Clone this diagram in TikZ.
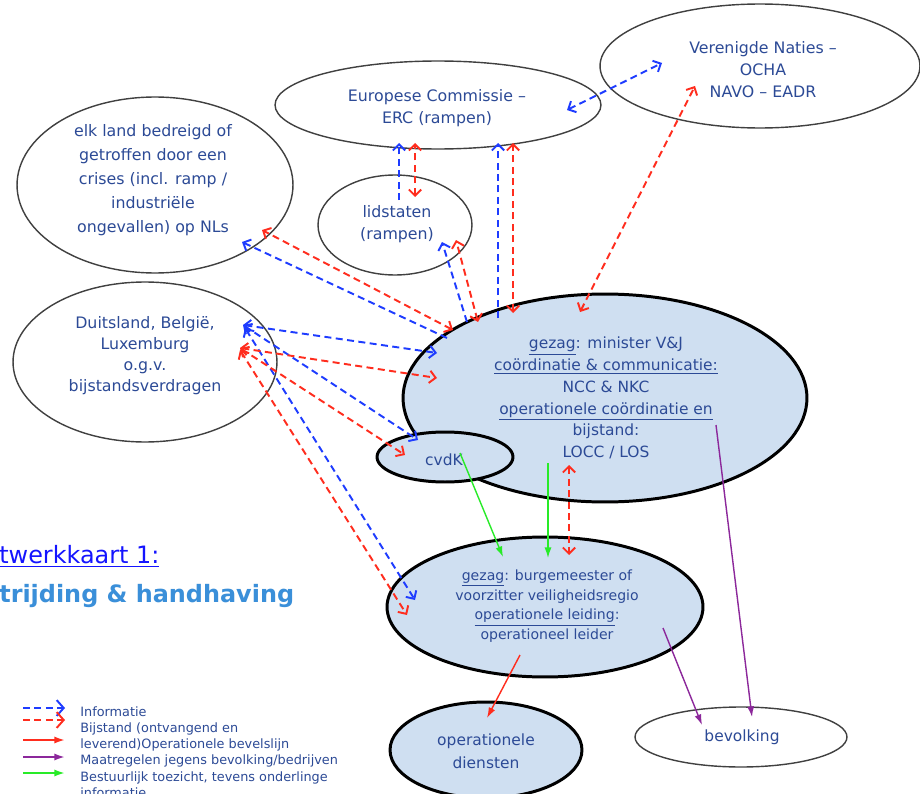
\documentclass[tikz,border=0pt]{standalone}
\usepackage{fontspec}
\setmainfont{DejaVu Sans}
\usetikzlibrary{positioning}
\usetikzlibrary{calc}
\usetikzlibrary{arrows.meta,shapes}

\definecolor{txtblue}{RGB}{44,74,150}
\definecolor{fillblue}{RGB}{207,223,241}
\definecolor{infoblue}{RGB}{30,60,255}
\definecolor{helpred}{RGB}{255,45,30}
\definecolor{toezgreen}{RGB}{40,235,40}
\definecolor{maatpurple}{RGB}{140,40,155}
\definecolor{linkblue}{RGB}{20,20,255}
\definecolor{kopblue}{RGB}{58,143,217}

\tikzset{
  ell/.style={ellipse, draw=black!75, line width=0.8pt, inner sep=0pt},
  ellfill/.style={ellipse, draw=black, fill=fillblue, line width=1.7pt, inner sep=0pt},
  txt/.style={text=txtblue, align=center, inner sep=0pt, font=\fontsize{9}{12.5}\selectfont},
  info/.style={draw=infoblue, line width=1.1pt, dash pattern=on 4pt off 2.5pt},
  hulp/.style={draw=helpred, line width=1.1pt, dash pattern=on 4pt off 2.5pt},
  bevel/.style={draw=helpred, line width=0.8pt, -{Latex[length=6pt,width=4pt]}},
  maatr/.style={draw=maatpurple, line width=0.8pt, -{Latex[length=6pt,width=4pt]}},
  toezicht/.style={draw=toezgreen, line width=0.8pt, -{Latex[length=6pt,width=4pt]}}
}

\begin{document}
\begin{tikzpicture}[x=0.02cm, y=-0.02cm, >={Straight Barb[length=3.5pt,width=7pt]}]
\fill[white] (0,0) rectangle (920,794);
\useasboundingbox (0,0) rectangle (920,794);

% ellipsen
\node[ell, minimum width=6.52cm, minimum height=1.76cm] (ec) at (438,105) {};
\node[ell, minimum width=6.4cm, minimum height=2.48cm] (vn) at (760,66) {};
\node[ell, minimum width=5.52cm, minimum height=3.52cm] (el) at (155,185) {};
\node[ell, minimum width=3.08cm, minimum height=2cm] (ls) at (395,225) {};
\node[ell, minimum width=5.28cm, minimum height=3.2cm] (dl) at (145,362) {};
\node[ellfill, minimum width=8.08cm, minimum height=4.16cm] (min) at (605,398) {};
\node[ellfill, minimum width=2.72cm, minimum height=1cm] (cvdk) at (445,457) {};
\node[ellfill, minimum width=6.32cm, minimum height=2.8cm] (bg) at (545,607) {};
\node[ellfill, minimum width=3.84cm, minimum height=1.92cm] (od) at (486,750) {};
\node[ell, minimum width=4.24cm, minimum height=1.2cm] (bv) at (741,737) {};

% teksten
\node[txt] (ec-t) at (437,108) {Europese Commissie –\\ERC (rampen)};
\node[txt] (vn-t) at (763,70) {Verenigde Naties –\\OCHA\\NAVO – EADR};
\node[txt, font=\fontsize{9}{13.7}\selectfont] (el-t) at (153,180) {elk land bedreigd of\\getroffen door een\\crises (incl. ramp /\\industriële\\ongevallen) op NLs};
\node[txt] (ls-t) at (397,224) {lidstaten\\(rampen)};
\node[txt, font=\fontsize{9}{12}\selectfont] (dl-t) at (145,356) {Duitsland, België,\\Luxemburg\\o.g.v.\\bijstandsverdragen};
\node[txt, font=\fontsize{8.8}{12.4}\selectfont] (min-t) at (606,398) {\underline{gezag}: minister V\&J\\\underline{coördinatie \& communicatie:}\\NCC \& NKC\\\underline{operationele coördinatie en}\\bijstand:\\LOCC / LOS};
\node[txt, font=\fontsize{8.8}{12}\selectfont] (cvdk-t) at (444,460) {cvdK};
\node[txt, font=\fontsize{8}{11.2}\selectfont] (bg-t) at (547,606) {\underline{gezag}: burgemeester of\\voorzitter veiligheidsregio\\\underline{operationele leiding}:\\operationeel leider};
\node[txt, font=\fontsize{8.8}{13}\selectfont] (od-t) at (486,751) {operationele\\diensten};
\node[txt, font=\fontsize{8.8}{12}\selectfont] (bv-t) at (742,737) {bevolking};

% titel (links afgesneden)
\node[anchor=west, inner sep=0pt, text=linkblue, font=\fontsize{13.6}{16}\selectfont] (kaart) at (-1,556) {\underline{twerkkaart 1:}};
\node[anchor=west, inner sep=0pt, text=kopblue, font=\fontsize{13.6}{16}\selectfont\bfseries] (thema) at (-1,596) {trijding \& handhaving};

% informatie
\path
($(ec)+(129,5)$) edge[info,<->] ($(vn)+(-98,-3)$)
($(ls)+(4,-25)$) edge[info,->] ($(ec)+(-39,38)$)
($(min)+(-107,-80)$) edge[info,->] ($(ec)+(60,38)$)
($(min)+(-138,-76)$) edge[info,->] ($(ls)+(47,17)$)
($(min)+(-158,-60)$) edge[info,->] ($(el)+(87,57)$)
($(dl)+(98,-37)$) edge[info,<->] ($(min)+(-168,-45)$)
($(dl)+(98,-37)$) edge[info,<->] ($(cvdk)+(-27,-17)$)
($(dl)+(100,-34)$) edge[info,<->] ($(bg)+(-130,-7)$);

% bijstand
\path
($(min)+(-25,-86)$) edge[hulp,<->] ($(vn)+(-65,20)$)
($(ls)+(20,-28)$) edge[hulp,<->] ($(ec)+(-23,38)$)
($(min)+(-92,-85)$) edge[hulp,<->] ($(ec)+(75,38)$)
($(min)+(-127,-76)$) edge[hulp,<->] ($(ls)+(61,15)$)
($(min)+(-152,-68)$) edge[hulp,<->] ($(el)+(107,45)$)
($(dl)+(95,-14)$) edge[hulp,<->] ($(min)+(-168,-20)$)
($(dl)+(95,-14)$) edge[hulp,<->] ($(cvdk)+(-40,-2)$)
($(dl)+(95,-12)$) edge[hulp,<->] ($(bg)+(-138,8)$)
($(min)+(-36,67)$) edge[hulp,<->] ($(bg)+(24,-52)$);

% bevelslijn, maatregelen, toezicht
\path
($(cvdk)+(15,-4)$) edge[toezicht] ($(bg)+(-42,-50)$)
($(min)+(-57,65)$) edge[toezicht] ($(bg)+(3,-49)$)
($(min)+(111,27)$) edge[maatr] ($(bv)+(11,-20)$)
($(bg)+(118,21)$) edge[maatr] ($(bv)+(-39,-12)$)
($(bg)+(-25,48)$) edge[bevel] ($(od)+(1,-32)$);

% legenda
\node[anchor=north west, inner sep=0pt, align=left, text=txtblue, font=\fontsize{7.3}{9.25}\selectfont] (legenda) at (80,706) {Informatie\\Bijstand (ontvangend en\\leverend)Operationele bevelslijn\\Maatregelen jegens bevolking/bedrijven\\Bestuurlijk toezicht, tevens onderlinge\\informatie};
\draw[info,-{Straight Barb[length=4pt,width=9pt]}] ($(legenda.north west)+(-57,2)$) -- ++(42,0);
\draw[hulp,-{Straight Barb[length=4pt,width=9pt]}] ($(legenda.north west)+(-57,14)$) -- ++(42,0);
\draw[bevel,line width=1.1pt] ($(legenda.north west)+(-57,34)$) -- ++(42,0);
\draw[maatr,line width=1.1pt] ($(legenda.north west)+(-57,51)$) -- ++(42,0);
\draw[toezicht,line width=1.1pt] ($(legenda.north west)+(-57,67)$) -- ++(42,0);
\end{tikzpicture}
\end{document}
